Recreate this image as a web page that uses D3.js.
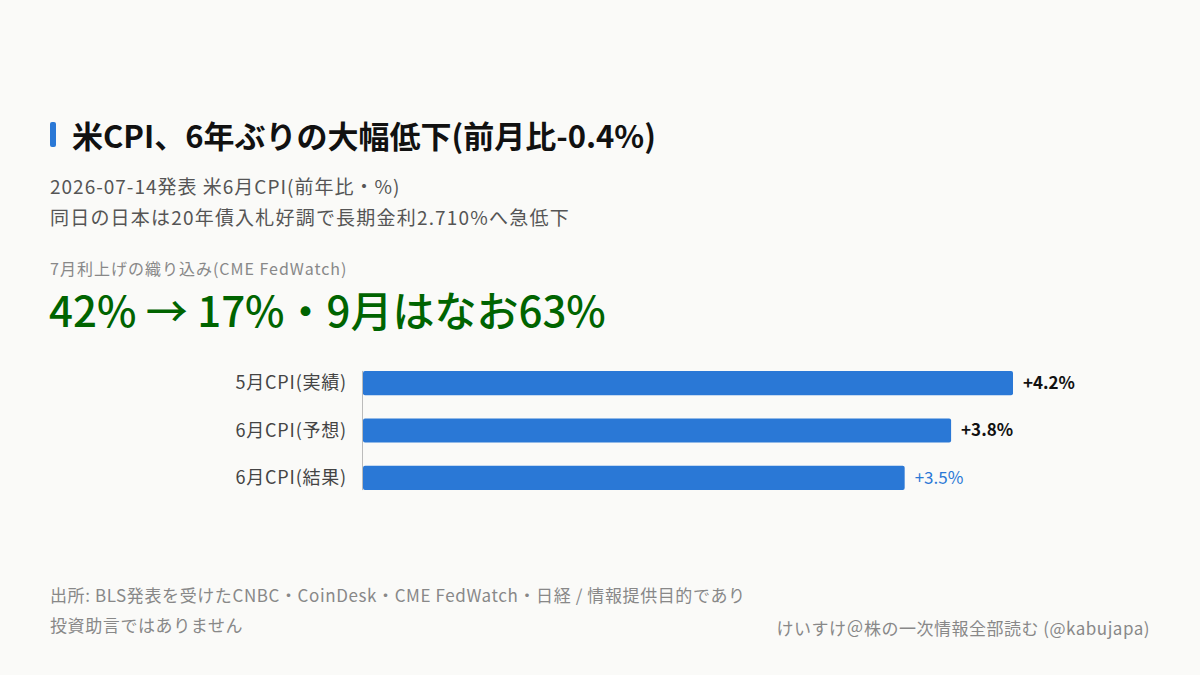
<!DOCTYPE html>
<html><head><meta charset="utf-8">
<script src="https://cdn.jsdelivr.net/npm/d3@7"></script>
<style>body{margin:0;background:#fafaf8;}svg{display:block;}text{font-family:"Noto Sans CJK JP","Noto Sans",sans-serif;}</style>
</head><body>
<script>
const categories = ["5月CPI(実績)", "6月CPI(予想)", "6月CPI(結果)"];
const values = [4.2, 3.8, 3.5];
const valueLabels = ["+4.2%", "+3.8%", "+3.5%"];
const highlight = [false, false, true];

const W = 1200, H = 675;
const svg = d3.select("body").append("svg").attr("width", W).attr("height", H);
svg.append("rect").attr("width", W).attr("height", H).attr("fill", "#fafaf8");

svg.append("rect").attr("x", 50).attr("y", 122).attr("width", 6).attr("height", 25).attr("rx", 2).attr("fill", "#2a78d6");
svg.append("text").attr("x", 72).attr("y", 148).attr("font-size", 31).attr("font-weight", 700).attr("fill", "#111")
  .text("米CPI、6年ぶりの大幅低下(前月比-0.4%)");
svg.append("text").attr("x", 50).attr("y", 194).attr("font-size", 19).attr("letter-spacing", 1).attr("fill", "#555").text("2026-07-14発表 米6月CPI(前年比・%)");
svg.append("text").attr("x", 50).attr("y", 225).attr("font-size", 19).attr("letter-spacing", 1.2).attr("fill", "#555").text("同日の日本は20年債入札好調で長期金利2.710%へ急低下");
svg.append("text").attr("x", 50).attr("y", 275).attr("font-size", 16).attr("letter-spacing", 1).attr("fill", "#888").text("7月利上げの織り込み(CME FedWatch)");
svg.append("text").attr("x", 49).attr("y", 327).attr("font-size", 42).attr("font-weight", 500).attr("fill", "#006400").text("42% → 17%・9月はなお63%");

const x = d3.scaleLinear().domain([0, 4.2]).range([363, 1013]);
const y = d3.scaleBand().domain(categories).range([360, 501]).paddingInner(0.49).paddingOuter(0.23);

svg.append("line").attr("x1", 362.5).attr("x2", 362.5).attr("y1", y(categories[0])).attr("y2", y(categories[2]) + y.bandwidth())
  .attr("stroke", "#bbb").attr("stroke-width", 1);

const g = svg.append("g");
categories.forEach((c, i) => {
  g.append("rect").attr("x", x(0)).attr("y", y(c)).attr("width", x(values[i]) - x(0)).attr("height", y.bandwidth())
    .attr("rx", 2).attr("fill", "#2a78d6");
  g.append("text").attr("x", 347).attr("y", y(c) + y.bandwidth() / 2).attr("dy", "0.35em").attr("text-anchor", "end")
    .attr("font-size", 18).attr("letter-spacing", 0.8).attr("fill", "#444").text(c);
  g.append("text").attr("x", x(values[i]) + 10).attr("y", y(c) + y.bandwidth() / 2).attr("dy", "0.35em")
    .attr("font-size", 17).attr("font-weight", highlight[i] ? 400 : 700).attr("fill", highlight[i] ? "#2a78d6" : "#111")
    .text(valueLabels[i]);
});

svg.append("text").attr("x", 50).attr("y", 602).attr("font-size", 17).attr("letter-spacing", 0.6).attr("fill", "#888")
  .text("出所: BLS発表を受けたCNBC・CoinDesk・CME FedWatch・日経 / 情報提供目的であり");
svg.append("text").attr("x", 50).attr("y", 632).attr("font-size", 17).attr("letter-spacing", 0.6).attr("fill", "#888").text("投資助言ではありません");
svg.append("text").attr("x", 1150).attr("y", 635).attr("text-anchor", "end").attr("font-size", 17).attr("letter-spacing", 0.5).attr("fill", "#888")
  .text("けいすけ＠株の一次情報全部読む (@kabujapa)");
</script>
</body></html>
